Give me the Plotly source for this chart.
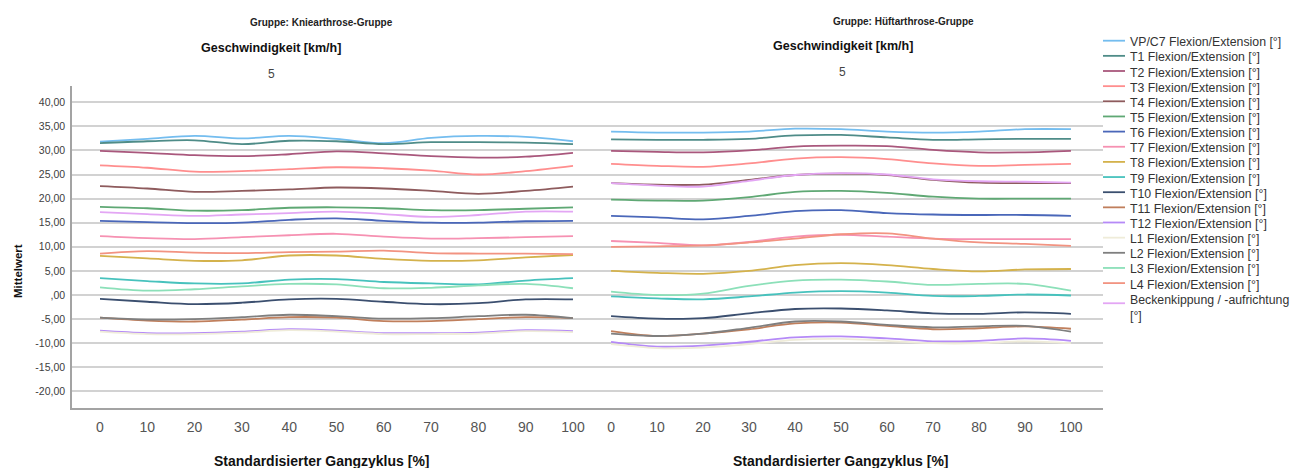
import plotly.graph_objects as go

# Gait-cycle positions (percent of the standardised cycle)
gait_pct = [0, 10, 20, 30, 40, 50, 60, 70, 80, 90, 100]

series_names = [
    "VP/C7 Flexion/Extension [°]", "T1 Flexion/Extension [°]", "T2 Flexion/Extension [°]",
    "T3 Flexion/Extension [°]", "T4 Flexion/Extension [°]", "T5 Flexion/Extension [°]",
    "T6 Flexion/Extension [°]", "T7 Flexion/Extension [°]", "T8 Flexion/Extension [°]",
    "T9 Flexion/Extension [°]", "T10 Flexion/Extension [°]", "T11 Flexion/Extension [°]",
    "T12 Flexion/Extension [°]", "L1 Flexion/Extension [°]", "L2 Flexion/Extension [°]",
    "L3 Flexion/Extension [°]", "L4 Flexion/Extension [°]", "Beckenkippung / -aufrichtung<br>[°]",
]
series_colors = [
    "#74bdef", "#4f8c88", "#a9577c", "#ff8e8e", "#8e5b5d", "#5fa874",
    "#4a67b9", "#f691b2", "#d4b24c", "#47c2bd", "#3b4f6f", "#c07f5c",
    "#b58af7", "#efecd9", "#7f7f7f", "#8ce0b9", "#f29381", "#e3a6f4",
]

# Kniearthrose-Gruppe, mean angles [°]
knie_vp_c7 = [31.8, 32.4, 33.0, 32.5, 33.0, 32.4, 31.5, 32.6, 33.0, 32.8, 31.9]
knie_t1 = [31.5, 31.9, 32.1, 31.3, 32.0, 31.9, 31.3, 31.7, 31.7, 31.6, 31.3]
knie_t2 = [29.9, 29.5, 29.0, 28.8, 29.2, 29.8, 29.4, 28.8, 28.5, 28.7, 29.5]
knie_t3 = [26.9, 26.4, 25.6, 25.7, 26.1, 26.5, 26.3, 25.8, 25.0, 25.7, 26.8]
knie_t4 = [22.6, 22.1, 21.4, 21.6, 21.9, 22.3, 22.1, 21.6, 21.0, 21.6, 22.5]
knie_t5 = [18.3, 18.0, 17.5, 17.6, 18.1, 18.2, 18.0, 17.6, 17.6, 17.9, 18.2]
knie_t6 = [15.4, 15.1, 14.9, 15.0, 15.6, 15.9, 15.4, 15.0, 15.0, 15.3, 15.4]
knie_t7 = [12.2, 11.8, 11.6, 12.0, 12.4, 12.7, 12.1, 11.7, 11.8, 12.0, 12.2]
knie_t8 = [8.1, 7.6, 7.1, 7.2, 8.2, 8.2, 7.5, 7.1, 7.2, 7.8, 8.3]
knie_t9 = [3.5, 2.9, 2.4, 2.4, 3.2, 3.3, 2.7, 2.4, 2.2, 3.0, 3.5]
knie_t10 = [-0.8, -1.4, -1.9, -1.6, -0.9, -0.8, -1.4, -1.9, -1.7, -0.9, -0.9]
knie_t11 = [-4.7, -5.3, -5.5, -5.1, -4.6, -4.7, -5.4, -5.4, -5.0, -4.6, -4.8]
knie_t12 = [-7.4, -7.9, -7.9, -7.6, -7.1, -7.4, -7.9, -7.9, -7.8, -7.3, -7.5]
knie_l1 = [-7.6, -8.1, -8.1, -7.8, -7.3, -7.6, -8.1, -8.1, -8.0, -7.5, -7.7]
knie_l2 = [-4.7, -5.1, -5.0, -4.6, -4.1, -4.4, -4.9, -4.8, -4.4, -4.1, -4.8]
knie_l3 = [1.6, 0.9, 1.2, 1.8, 2.3, 2.2, 1.4, 1.5, 2.0, 2.3, 1.4]
knie_l4 = [8.6, 9.1, 8.8, 8.7, 8.9, 9.0, 9.2, 8.7, 8.6, 8.6, 8.5]
knie_becken = [17.2, 16.8, 16.4, 16.7, 17.0, 17.3, 16.8, 16.2, 16.6, 17.3, 17.3]

# Hüftarthrose-Gruppe, mean angles [°]
hueft_vp_c7 = [33.9, 33.7, 33.7, 33.9, 34.5, 34.4, 33.9, 33.7, 33.9, 34.4, 34.4]
hueft_t1 = [32.3, 32.2, 32.2, 32.4, 33.1, 33.2, 32.7, 32.2, 32.3, 32.4, 32.4]
hueft_t2 = [29.9, 29.7, 29.6, 30.0, 30.8, 31.0, 30.9, 30.1, 29.6, 29.6, 29.9]
hueft_t3 = [27.2, 26.8, 26.6, 27.3, 28.3, 28.6, 28.2, 27.3, 26.8, 27.0, 27.2]
hueft_t4 = [23.2, 22.9, 22.9, 23.9, 24.9, 25.2, 24.9, 23.9, 23.3, 23.2, 23.2]
hueft_t5 = [19.8, 19.6, 19.6, 20.3, 21.4, 21.6, 21.2, 20.4, 20.0, 20.0, 20.0]
hueft_t6 = [16.4, 16.1, 15.7, 16.4, 17.4, 17.6, 17.0, 16.7, 16.6, 16.6, 16.4]
hueft_t7 = [11.2, 10.8, 10.3, 11.0, 12.1, 12.5, 12.1, 11.7, 11.6, 11.6, 11.6]
hueft_t8 = [5.0, 4.6, 4.4, 5.0, 6.2, 6.6, 6.2, 5.4, 4.9, 5.3, 5.4]
hueft_t9 = [-0.3, -0.7, -0.9, -0.3, 0.5, 0.8, 0.5, -0.2, -0.2, 0.1, -0.1]
hueft_t10 = [-4.4, -4.9, -4.8, -3.8, -2.9, -2.8, -3.2, -3.8, -3.9, -3.6, -3.9]
hueft_t11 = [-7.5, -8.5, -8.0, -7.1, -5.9, -5.7, -6.4, -7.1, -6.9, -6.5, -7.0]
hueft_t12 = [-9.7, -10.7, -10.5, -9.7, -8.8, -8.6, -9.0, -9.6, -9.5, -9.0, -9.5]
hueft_l1 = [-10.2, -11.0, -10.9, -10.2, -9.3, -9.1, -9.5, -10.0, -10.0, -9.6, -10.0]
hueft_l2 = [-8.0, -8.5, -8.0, -6.8, -5.5, -5.5, -6.2, -6.7, -6.5, -6.4, -7.6]
hueft_l3 = [0.7, 0.0, 0.3, 1.9, 3.0, 3.2, 2.8, 2.1, 2.3, 2.3, 0.9]
hueft_l4 = [10.0, 10.1, 10.3, 10.9, 11.7, 12.6, 12.8, 11.7, 10.9, 10.6, 10.2]
hueft_becken = [23.2, 22.7, 22.5, 23.7, 24.9, 25.3, 25.0, 24.0, 23.6, 23.5, 23.3]

knie_series = [knie_vp_c7, knie_t1, knie_t2, knie_t3, knie_t4, knie_t5, knie_t6, knie_t7,
               knie_t8, knie_t9, knie_t10, knie_t11, knie_t12, knie_l1, knie_l2, knie_l3,
               knie_l4, knie_becken]
hueft_series = [hueft_vp_c7, hueft_t1, hueft_t2, hueft_t3, hueft_t4, hueft_t5, hueft_t6, hueft_t7,
                hueft_t8, hueft_t9, hueft_t10, hueft_t11, hueft_t12, hueft_l1, hueft_l2, hueft_l3,
                hueft_l4, hueft_becken]

y_tick_vals = [40, 35, 30, 25, 20, 15, 10, 5, 0, -5, -10, -15, -20]
y_tick_text = ["40,00", "35,00", "30,00", "25,00", "20,00", "15,00", "10,00", "5,00",
               ",00", "-5,00", "-10,00", "-15,00", "-20,00"]
x_tick_vals = gait_pct

# Page geometry (pixels)
W, H = 1300, 468
ML, MR, MT, MB = 72, 197, 86, 60
PW, PH = W - ML - MR, H - MT - MB
SPLIT = 586  # boundary between the two panels


def fx(x):
    return (x - ML) / PW


def fy(y):
    return 1 - (y - MT) / PH


FONT = "Liberation Sans, Arial, sans-serif"

fig = go.Figure()
for name, color, kv, hv in zip(series_names, series_colors, knie_series, hueft_series):
    for xa, ya, vals in (("x", "y", kv), ("x2", "y2", hv)):
        fig.add_trace(go.Scatter(
            x=gait_pct, y=vals, xaxis=xa, yaxis=ya, mode="lines", name=name,
            line=dict(color=color, width=1.8, shape="spline", smoothing=1.0),
            showlegend=False, hoverinfo="skip",
        ))

y_range = [-23.44, 43.36]
common_x = dict(
    tickvals=x_tick_vals, ticks="outside", ticklen=5, tickcolor="rgba(0,0,0,0)",
    tickfont=dict(family=FONT, size=14, color="#555555"),
    showgrid=False, zeroline=False, showline=True, linecolor="#a3a3a3", linewidth=1.5,
)
common_y = dict(
    range=y_range, tickvals=y_tick_vals, showgrid=True, gridcolor="#d2d2d2", gridwidth=1.5,
    zeroline=False,
)

fig.update_layout(
    width=W, height=H, margin=dict(l=ML, r=MR, t=MT, b=MB),
    paper_bgcolor="white", plot_bgcolor="white", showlegend=False,
    xaxis=dict(domain=[0, fx(SPLIT)], range=[-5.92, 102.75], anchor="y", **common_x),
    xaxis2=dict(domain=[fx(SPLIT), 1], range=[-5.45, 106.97], anchor="y2", **common_x),
    yaxis=dict(anchor="x", ticktext=y_tick_text, ticks="outside", ticklen=3,
               tickcolor="rgba(0,0,0,0)", tickfont=dict(family=FONT, size=10.5, color="#404040"),
               showline=True, linecolor="#a3a3a3", linewidth=1.5, **common_y),
    yaxis2=dict(anchor="x2", showticklabels=False, showline=False, **common_y),
)

annotations = []


def add_text(text, x, y, size, color="#000000", family=FONT, bold=False, angle=0, xanchor="center"):
    annotations.append(dict(
        text=f"<b>{text}</b>" if bold else text, x=fx(x), y=fy(y), xref="paper", yref="paper",
        xanchor=xanchor, yanchor="middle", showarrow=False, textangle=angle,
        font=dict(family=family, size=size, color=color),
    ))


# Panel headers
add_text("Gruppe: Kniearthrose-Gruppe", 321, 22, 10, "#222222", bold=True)
add_text("Geschwindigkeit [km/h]", 271, 48, 12.5, "#111111", bold=True)
add_text("5", 271, 74, 12, "#444444")
add_text("Gruppe: Hüftarthrose-Gruppe", 903, 21, 10, "#222222", bold=True)
add_text("Geschwindigkeit [km/h]", 843, 46, 12.5, "#111111", bold=True)
add_text("5", 842, 72, 12, "#444444")

# Axis titles
add_text("Mittelwert", 18, 271, 11.5, "#111111", bold=True, angle=-90)
add_text("Standardisierter Gangzyklus [%]", 322, 461, 14, "#111111", bold=True)
add_text("Standardisierter Gangzyklus [%]", 841, 461, 14, "#111111", bold=True)

# Legend built from the series lists
shapes = []
LEG_X0, LEG_X1, LEG_TX = 1103, 1125, 1128
LEG_Y0, LEG_DY = 40.7, 15.15
for i, (name, color) in enumerate(zip(series_names, series_colors)):
    yc = LEG_Y0 + i * LEG_DY
    two_lines = "<br>" in name
    sym_y = yc + 5 if two_lines else yc
    shapes.append(dict(type="line", xref="paper", yref="paper",
                       x0=fx(LEG_X0), x1=fx(LEG_X1), y0=fy(sym_y), y1=fy(sym_y),
                       line=dict(color=color, width=1.8)))
    annotations.append(dict(
        text=name, x=fx(LEG_TX), y=fy(yc - 7.5), xref="paper", yref="paper",
        xanchor="left", yanchor="top", align="left", showarrow=False,
        font=dict(family=FONT, size=12.3, color="#333333"),
    ))

fig.update_layout(annotations=annotations, shapes=shapes)
fig.write_html("out.html")
